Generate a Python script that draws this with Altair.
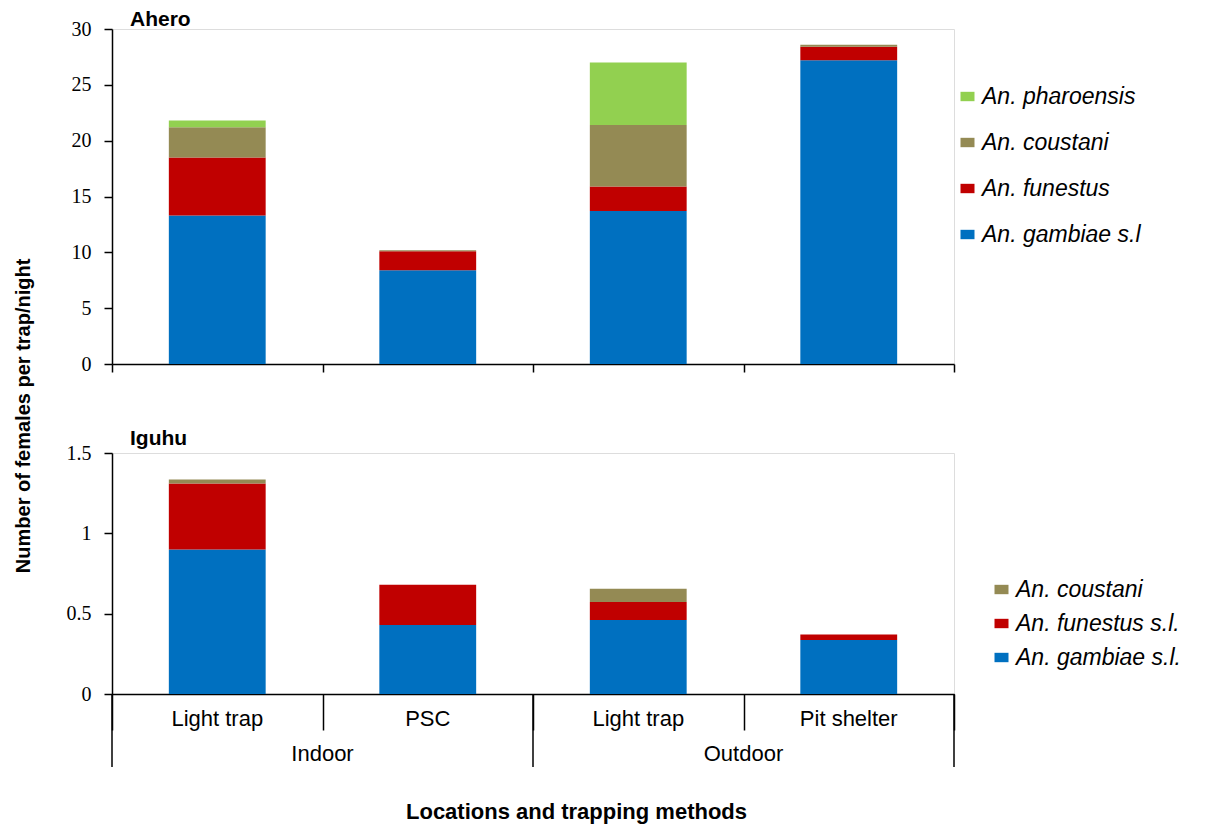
import altair as alt
import pandas as pd

# ---------------- data ----------------
keys = ["Indoor Light trap", "Indoor PSC", "Outdoor Light trap", "Outdoor Pit shelter"]
methods = ["Light trap", "PSC", "Light trap", "Pit shelter"]
location_keys = ["Indoor PSC", "Outdoor Pit shelter"]   # band starts = group centres
locations = ["Indoor", "Outdoor"]
group_edge_keys = ["Indoor Light trap", "Outdoor Light trap"]

# Ahero (stack order bottom -> top)
ahero_species = ["An. gambiae s.l", "An. funestus", "An. coustani", "An. pharoensis"]
ahero_gambiae = [13.3, 8.4, 13.7, 27.2]
ahero_funestus = [5.2, 1.7, 2.2, 1.2]
ahero_coustani = [2.7, 0.08, 5.5, 0.18]
ahero_pharoensis = [0.6, 0.0, 5.6, 0.0]
ahero_colors = ["#0070C0", "#C00000", "#948A54", "#92D050"]

# Iguhu (stack order bottom -> top)
iguhu_species = ["An. gambiae s.l.", "An. funestus s.l.", "An. coustani"]
iguhu_gambiae = [0.90, 0.43, 0.46, 0.336]
iguhu_funestus = [0.41, 0.25, 0.113, 0.035]
iguhu_coustani = [0.025, 0.0, 0.082, 0.0]
iguhu_colors = ["#0070C0", "#C00000", "#948A54"]

ahero_ticks = [0, 5, 10, 15, 20, 25, 30]
iguhu_ticks = [0, 0.5, 1, 1.5]


def long_table(species, series):
    rows = []
    for i, (sp, vals) in enumerate(zip(species, series)):
        for k, v in zip(keys, vals):
            rows.append({"key": k, "species": sp, "value": v, "idx": i})
    return pd.DataFrame(rows)


df_a = long_table(ahero_species, [ahero_gambiae, ahero_funestus, ahero_coustani, ahero_pharoensis])
df_i = long_table(iguhu_species, [iguhu_gambiae, iguhu_funestus, iguhu_coustani])
df_m = pd.DataFrame({"key": keys, "method": methods})
df_l = pd.DataFrame({"key": location_keys, "loc": locations})
df_e = pd.DataFrame({"key": group_edge_keys})
df_one = pd.DataFrame({"k": [0]})

# ---------------- layout ----------------
W = 842
H1 = 335
H2 = 241
SANS = "Liberation Sans"
SERIF = "Liberation Serif"
RECT = "M-1,-0.67H1V0.67H-1Z"

xscale = alt.Scale(domain=keys, paddingInner=0, paddingOuter=0)


def y_axis(vals, fmt):
    return alt.Axis(values=vals, format=fmt, title=None, grid=False,
                    labelFont=SERIF, labelFontSize=20, labelColor="black",
                    tickSize=8, tickColor="black", tickWidth=1.5,
                    domainColor="black", domainWidth=1.5, labelPadding=13,
                    minExtent=48, maxExtent=48)


def legend(x, y, row_pad):
    return alt.Legend(title=None, orient="none", legendX=x, legendY=y,
                      symbolType=RECT, symbolSize=196, symbolStrokeWidth=0,
                      labelFont=SANS, labelFontStyle="italic", labelFontSize=23,
                      labelColor="black", rowPadding=row_pad, labelOffset=3,
                      padding=0, labelLimit=400)


# ---- Ahero panel ----
top = alt.Chart(df_a).mark_bar(width={"band": 0.46}).encode(
    x=alt.X("key:N", scale=xscale, sort=keys,
            axis=alt.Axis(title=None, labels=False, ticks=True, tickBand="extent",
                          tickSize=8, tickColor="black", tickWidth=1.5,
                          domainColor="black", domainWidth=1.5)),
    y=alt.Y("value:Q", stack="zero", scale=alt.Scale(domain=[0, 30], nice=False),
            axis=y_axis(ahero_ticks, "d")),
    color=alt.Color("species:N",
                    scale=alt.Scale(domain=ahero_species[::-1], range=ahero_colors[::-1]),
                    legend=legend(844, 56, 22)),
    order=alt.Order("idx:Q"),
).properties(
    width=W, height=H1,
    title=alt.TitleParams("Ahero", anchor="start", frame="group", dx=18, offset=-11,
                          font=SANS, fontSize=21, fontWeight="bold", color="black"),
)

# ---- Iguhu panel ----
bars_i = alt.Chart(df_i).mark_bar(width={"band": 0.46}).encode(
    x=alt.X("key:N", scale=xscale, sort=keys,
            axis=alt.Axis(title="Locations and trapping methods", labels=False,
                          ticks=True, tickBand="extent", tickSize=36,
                          tickColor="black", tickWidth=1.5,
                          domainColor="black", domainWidth=1.5,
                          titleFont=SANS, titleFontSize=22, titleFontWeight="bold",
                          titleColor="black", titlePadding=71, titleX=464)),
    y=alt.Y("value:Q", stack="zero", scale=alt.Scale(domain=[0, 1.5], nice=False),
            axis=y_axis(iguhu_ticks, "~g")),
    color=alt.Color("species:N",
                    scale=alt.Scale(domain=iguhu_species[::-1], range=iguhu_colors[::-1]),
                    legend=legend(878, 125, 10)),
    order=alt.Order("idx:Q"),
)

method_text = alt.Chart(df_m).mark_text(font=SANS, fontSize=22, color="black",
                                        baseline="middle").encode(
    x=alt.X("key:N", sort=keys),
    y=alt.value(H2 + 25),
    text="method:N",
)

loc_text = alt.Chart(df_l).mark_text(font=SANS, fontSize=22, color="black",
                                     baseline="middle").encode(
    x=alt.X("key:N", sort=keys, bandPosition=0),
    y=alt.value(H2 + 60),
    text="loc:N",
)

edge_rules = alt.Chart(df_e).mark_rule(color="black", strokeWidth=1.5).encode(
    x=alt.X("key:N", sort=keys, bandPosition=0),
    y=alt.value(H2),
    y2=alt.value(H2 + 73),
)

end_rule = alt.Chart(df_one).mark_rule(color="black", strokeWidth=1.5).encode(
    x=alt.value(W),
    y=alt.value(H2),
    y2=alt.value(H2 + 73),
)

bottom = alt.layer(bars_i, method_text, loc_text, edge_rules, end_rule).properties(
    width=W, height=H2,
    title=alt.TitleParams("Iguhu", anchor="start", frame="group", dx=18, offset=-6,
                          font=SANS, fontSize=21, fontWeight="bold", color="black"),
)

chart = alt.vconcat(top, bottom, spacing=52).resolve_scale(
    color="independent", x="independent", y="independent"
).properties(
    title=alt.TitleParams("Number of females per trap/night", orient="left",
                          anchor="middle", offset=30, font=SANS, fontSize=20,
                          fontWeight="bold", color="black"),
    padding={"left": 5, "top": 0, "right": 5, "bottom": 0},
).configure_view(stroke=None).configure(background="white")

chart.save("out.html", embed_options={"renderer": "svg", "actions": False})
